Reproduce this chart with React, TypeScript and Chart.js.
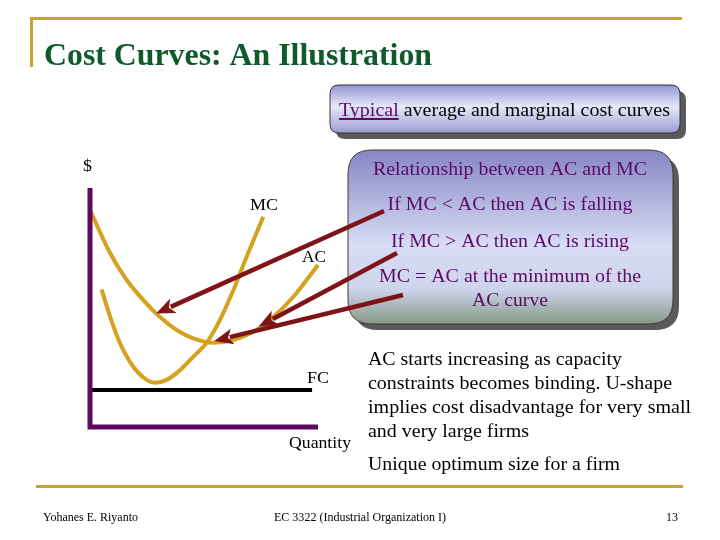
import React, { useEffect, useRef } from "react";
import { Chart, registerables } from "chart.js";

Chart.register(...registerables);

// ---- Data (quantity on x, $ on y; axes run 0..10) ----
const acQuantity = [0, 0.88, 1.61, 2.34, 3.07, 3.8, 4.53, 5.41, 6.29, 7.16, 8.04, 8.92, 10.0];
const acCost = [9.08, 7.28, 6.15, 5.31, 4.6, 4.06, 3.71, 3.53, 3.64, 3.98, 4.6, 5.45, 6.78];
const mcQuantity = [0.51, 0.88, 1.32, 1.9, 2.49, 2.85, 3.36, 3.95, 4.53, 5.12, 5.7, 6.29, 6.87, 7.6];
const mcCost = [5.76, 4.62, 3.5, 2.52, 1.97, 1.85, 1.97, 2.38, 2.94, 3.53, 4.48, 5.73, 7.12, 8.8];
const fcQuantity = [0, 9.74];
const fcCost = [1.55, 1.55];
const axisQuantity = [0, 0, 10];
const axisCost = [10, 0, 0];
// points on AC that the arrows point at: falling part, rising part, minimum
const arrowTargetQuantity = [2.9, 7.4, 5.45];
const arrowTargetCost = [4.75, 4.2, 3.6];

const titleText = "Cost Curves: An Illustration";
const box1Text = ["Typical", " average and marginal cost curves"];
const box2Lines = [
  "Relationship between AC and MC",
  "If MC < AC then AC is falling",
  "If MC > AC then AC is rising",
  "MC = AC at the minimum of the",
  "AC curve",
];
const noteLines = [
  "AC starts increasing as capacity",
  "constraints becomes binding. U-shape",
  "implies cost disadvantage for very small",
  "and very large firms",
];
const noteLast = "Unique optimum size for a firm";
const footerLeft = "Yohanes E. Riyanto";
const footerCenter = "EC 3322 (Industrial Organization I)";
const footerRight = "13";

const toPts = (xs: number[], ys: number[]) => xs.map((x, i) => ({ x, y: ys[i] }));

const SERIF = '"Liberation Serif", "Times New Roman", serif';
const GOLD = "#C9A235";
const CURVE = "#D4A21E";
const AXIS = "#5E0A5E";
const ARROW = "#7E1416";
const PURPLE_TEXT = "#5C0A63";

function roundRect(ctx: CanvasRenderingContext2D, x: number, y: number, w: number, h: number, r: number) {
  ctx.beginPath();
  ctx.moveTo(x + r, y);
  ctx.lineTo(x + w - r, y);
  ctx.quadraticCurveTo(x + w, y, x + w, y + r);
  ctx.lineTo(x + w, y + h - r);
  ctx.quadraticCurveTo(x + w, y + h, x + w - r, y + h);
  ctx.lineTo(x + r, y + h);
  ctx.quadraticCurveTo(x, y + h, x, y + h - r);
  ctx.lineTo(x, y + r);
  ctx.quadraticCurveTo(x, y, x + r, y);
  ctx.closePath();
}

// draw text stretched/compressed horizontally to an exact width
function fitText(
  ctx: CanvasRenderingContext2D,
  s: string,
  x: number,
  y: number,
  size: number,
  color: string,
  align: CanvasTextAlign,
  width: number,
  bold = false
) {
  ctx.save();
  ctx.font = `${bold ? "bold " : ""}${size}px ${SERIF}`;
  ctx.fillStyle = color;
  ctx.textAlign = align;
  ctx.textBaseline = "alphabetic";
  const m = ctx.measureText(s).width || 1;
  ctx.translate(x, y);
  ctx.scale(width / m, 1);
  ctx.fillText(s, 0, 0);
  ctx.restore();
}

const slidePlugin = {
  id: "slide",
  beforeDraw(chart: any) {
    const ctx: CanvasRenderingContext2D = chart.ctx;
    ctx.save();
    ctx.fillStyle = "#ffffff";
    ctx.fillRect(0, 0, chart.width, chart.height);
    // gold frame lines
    ctx.fillStyle = GOLD;
    ctx.fillRect(30, 17, 652, 3);
    ctx.fillRect(30, 17, 3, 50);
    ctx.fillRect(36, 485, 647, 3);
    // title
    fitText(ctx, titleText, 44, 65, 31, "#0E5A2C", "left", 388, true);
    // footer
    fitText(ctx, footerLeft, 43, 521, 13, "#000", "left", 95);
    fitText(ctx, footerCenter, 360, 521, 13, "#000", "center", 172);
    fitText(ctx, footerRight, 678, 521, 13, "#000", "right", 12);
    ctx.restore();
  },
  afterDatasetsDraw(chart: any) {
    const ctx: CanvasRenderingContext2D = chart.ctx;
    const xs = chart.scales.x;
    const ys = chart.scales.y;
    ctx.save();

    // axis / curve labels
    fitText(ctx, "$", 83, 171, 17, "#000", "left", 9);
    fitText(ctx, "MC", 250, 210, 17, "#000", "left", 28);
    fitText(ctx, "AC", 302, 262, 17, "#000", "left", 24);
    fitText(ctx, "FC", 307, 383, 17, "#000", "left", 22);
    fitText(ctx, "Quantity", 289, 448, 17, "#000", "left", 62);

    // box 1
    ctx.save();
    ctx.fillStyle = "#5a5a5a";
    roundRect(ctx, 336, 91, 350, 48, 9);
    ctx.fill();
    const g1 = ctx.createLinearGradient(0, 85, 0, 133);
    g1.addColorStop(0, "#9494CE");
    g1.addColorStop(0.45, "#E6E8FA");
    g1.addColorStop(1, "#9C9CD0");
    ctx.fillStyle = g1;
    roundRect(ctx, 330, 85, 350, 48, 9);
    ctx.fill();
    ctx.strokeStyle = "#333";
    ctx.lineWidth = 1;
    ctx.stroke();
    ctx.restore();

    ctx.font = `19px ${SERIF}`;
    const w1a = ctx.measureText(box1Text[0]).width;
    const w1b = ctx.measureText(box1Text[1]).width;
    const sc = 331 / (w1a + w1b);
    const startX = 339;
    fitText(ctx, box1Text[0], startX, 116, 19, PURPLE_TEXT, "left", w1a * sc);
    fitText(ctx, box1Text[1], startX + w1a * sc, 116, 19, "#000", "left", w1b * sc);
    ctx.fillStyle = PURPLE_TEXT;
    ctx.fillRect(startX, 118, w1a * sc, 2);

    // box 2
    ctx.save();
    ctx.fillStyle = "#5a5a5a";
    roundRect(ctx, 354, 156, 325, 174, 24);
    ctx.fill();
    const g2 = ctx.createLinearGradient(0, 150, 0, 324);
    g2.addColorStop(0, "#8686C2");
    g2.addColorStop(0.55, "#D8DCF6");
    g2.addColorStop(0.8, "#CED4EC");
    g2.addColorStop(1, "#869886");
    ctx.fillStyle = g2;
    roundRect(ctx, 348, 150, 325, 174, 24);
    ctx.fill();
    ctx.strokeStyle = "#3a3a3a";
    ctx.lineWidth = 1;
    ctx.stroke();
    ctx.restore();

    const b2y = [175, 210, 247, 282, 306];
    const b2w = [274, 245, 238, 262, 76];
    box2Lines.forEach((l, i) => fitText(ctx, l, 510, b2y[i], 19, PURPLE_TEXT, "center", b2w[i]));

    // note text
    const ny = [365, 389, 413, 437];
    const nw = [254, 304, 323, 161];
    noteLines.forEach((l, i) => fitText(ctx, l, 368, ny[i], 18, "#000", "left", nw[i]));
    fitText(ctx, noteLast, 368, 470, 18, "#000", "left", 252);

    // arrows
    const starts = [
      [384, 211],
      [397, 253],
      [403, 295],
    ];
    arrowTargetQuantity.forEach((q, i) => {
      const tx = xs.getPixelForValue(q);
      const ty = ys.getPixelForValue(arrowTargetCost[i]);
      const [sx, sy] = starts[i];
      const ang = Math.atan2(ty - sy, tx - sx);
      const headLen = 19;
      const headW = 8;
      const bx = tx - headLen * Math.cos(ang);
      const by = ty - headLen * Math.sin(ang);
      ctx.strokeStyle = ARROW;
      ctx.lineWidth = 4.5;
      ctx.lineCap = "butt";
      ctx.beginPath();
      ctx.moveTo(sx, sy);
      ctx.lineTo(bx + 3 * Math.cos(ang), by + 3 * Math.sin(ang));
      ctx.stroke();
      ctx.fillStyle = ARROW;
      ctx.beginPath();
      ctx.moveTo(tx, ty);
      ctx.lineTo(bx + headW * Math.sin(ang), by - headW * Math.cos(ang));
      ctx.lineTo(bx + 5 * Math.cos(ang), by + 5 * Math.sin(ang));
      ctx.lineTo(bx - headW * Math.sin(ang), by + headW * Math.cos(ang));
      ctx.closePath();
      ctx.fill();
    });

    ctx.restore();
  },
};

export default function App() {
  const ref = useRef<HTMLCanvasElement | null>(null);
  useEffect(() => {
    if (!ref.current) return;
    const chart = new Chart(ref.current, {
      type: "line",
      data: {
        datasets: [
          {
            label: "Axes",
            data: toPts(axisQuantity, axisCost),
            borderColor: AXIS,
            borderWidth: 5,
            borderJoinStyle: "miter",
            borderCapStyle: "butt",
            pointRadius: 0,
            tension: 0,
            fill: false,
          },
          {
            label: "FC",
            data: toPts(fcQuantity, fcCost),
            borderColor: "#000",
            borderWidth: 4,
            pointRadius: 0,
            tension: 0,
            fill: false,
          },
          {
            label: "AC",
            data: toPts(acQuantity, acCost),
            borderColor: CURVE,
            borderWidth: 4,
            pointRadius: 0,
            cubicInterpolationMode: "monotone",
            fill: false,
          },
          {
            label: "MC",
            data: toPts(mcQuantity, mcCost),
            borderColor: CURVE,
            borderWidth: 4,
            pointRadius: 0,
            cubicInterpolationMode: "monotone",
            fill: false,
          },
        ] as any,
      },
      options: {
        animation: false,
        responsive: false,
        devicePixelRatio: 1,
        layout: { padding: { left: 90, right: 402, top: 188, bottom: 113 } },
        datasets: { line: { clip: false } } as any,
        scales: {
          x: { type: "linear", min: 0, max: 10, display: false },
          y: { type: "linear", min: 0, max: 10, display: false },
        },
        plugins: { legend: { display: false }, tooltip: { enabled: false } },
        events: [],
      },
      plugins: [slidePlugin],
    });
    return () => chart.destroy();
  }, []);
  return (
    <div style={{ position: "fixed", left: 0, top: 0, width: 720, height: 540, background: "#fff" }}>
      <canvas ref={ref} width={720} height={540} style={{ width: 720, height: 540, display: "block" }} />
    </div>
  );
}
